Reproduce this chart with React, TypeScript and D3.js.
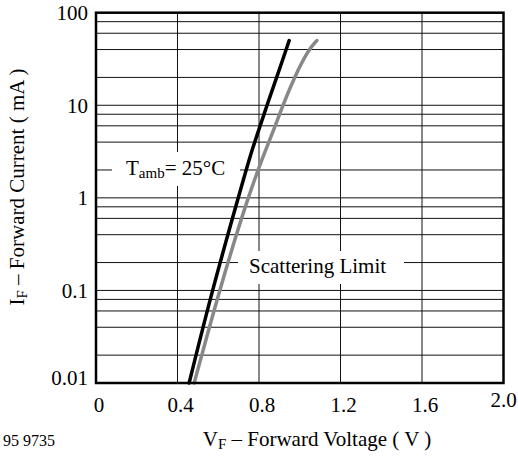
import React from "react";
import * as d3 from "d3";

// (V in volts, I in mA)
const typicalV = [0.457, 0.57, 0.698, 0.759, 0.806, 0.839, 0.887, 0.948];
const typicalI = [0.01, 0.1, 1, 3, 6, 10, 20, 50];
const limitV = [0.482, 0.605, 0.744, 0.825, 0.88, 0.917, 0.973, 1.043, 1.084];
const limitI = [0.01, 0.1, 1, 3, 6, 10, 20, 40, 50];

const xTicks = [0, 0.4, 0.8, 1.2, 1.6, 2.0];
const xTickLabels = ["0", "0.4", "0.8", "1.2", "1.6", "2.0"];
const yTicks = [100, 10, 1, 0.1, 0.01];
const yTickLabels = ["100", "10", "1", "0.1", "0.01"];
const decades = [0.01, 0.1, 1, 10];
const gridSteps = [1, 2, 4, 6, 8];

const W = 518;
const H = 458;
const left = 96;
const right = 503.5;
const top = 12.7;
const bottom = 383;
const font = "'Liberation Serif', 'Times New Roman', serif";
const fs = 21;

const App: React.FC = () => {
  const x = d3.scaleLinear().domain([0, 2]).range([left, right]);
  const y = d3.scaleLog().domain([0.01, 100]).range([bottom, top]);

  const line = d3
    .line<[number, number]>()
    .x((d) => x(d[0]))
    .y((d) => y(d[1]))
    .curve(d3.curveBasis);

  const typical = typicalV.map((v, i) => [v, typicalI[i]] as [number, number]);
  const limit = limitV.map((v, i) => [v, limitI[i]] as [number, number]);

  const hGrid: number[] = [];
  decades.forEach((d) => gridSteps.forEach((s) => hGrid.push(d * s)));

  return (
    <svg
      width={W}
      height={H}
      style={{ position: "absolute", left: 0, top: 0, background: "#fff" }}
      fontFamily={font}
    >
      {/* grid */}
      <g stroke="#111" strokeWidth={1} fill="none">
        {hGrid.map((v) => (
          <line key={"h" + v} x1={left} x2={right} y1={y(v)} y2={y(v)} />
        ))}
        {xTicks.slice(1, -1).map((v) => (
          <line key={"v" + v} x1={x(v)} x2={x(v)} y1={top} y2={bottom} />
        ))}
      </g>

      {/* label backgrounds cut the grid */}
      <rect x={112} y={152} width={128} height={34} fill="#fff" />
      <rect x={238} y={251} width={166} height={33} fill="#fff" />

      <text x={126} y={175} fontSize={fs}>
        T<tspan fontSize={15} dy={3}>amb</tspan>
        <tspan dy={-3}>= 25°C</tspan>
      </text>
      <text x={249} y={273} fontSize={fs}>
        Scattering Limit
      </text>

      {/* curves */}
      <path
        d={line(limit) || ""}
        fill="none"
        stroke="#888"
        strokeWidth={3.5}
        strokeLinecap="round"
      />
      <path
        d={line(typical) || ""}
        fill="none"
        stroke="#000"
        strokeWidth={3.5}
        strokeLinecap="round"
      />

      {/* frame */}
      <rect
        x={left}
        y={top}
        width={right - left}
        height={bottom - top}
        fill="none"
        stroke="#000"
        strokeWidth={2.5}
      />

      {/* y tick labels */}
      {yTicks.map((v, i) => (
        <text
          key={"yl" + v}
          x={88}
          y={Math.min(y(v), 378)}
          dy="0.35em"
          fontSize={fs}
          textAnchor="end"
        >
          {yTickLabels[i]}
        </text>
      ))}

      {/* x tick labels */}
      {xTicks.map((v, i) => {
        const last = i === xTicks.length - 1;
        return (
          <text
            key={"xl" + v}
            x={last ? x(v) : x(v) + 3}
            y={last ? 407 : 412}
            fontSize={fs}
            textAnchor="middle"
          >
            {xTickLabels[i]}
          </text>
        );
      })}

      {/* axis titles */}
      <text x={317} y={446} fontSize={fs} textAnchor="middle">
        V<tspan fontSize={15} dy={3}>F</tspan>
        <tspan dy={-3}> – Forward Voltage ( V )</tspan>
      </text>
      <text
        transform={`translate(24,187) rotate(-90)`}
        fontSize={fs}
        textAnchor="middle"
      >
        I<tspan fontSize={15} dy={3}>F</tspan>
        <tspan dy={-3}> – Forward Current ( mA )</tspan>
      </text>
      <text x={3} y={446} fontSize={16}>
        95 9735
      </text>
    </svg>
  );
};

export default App;
